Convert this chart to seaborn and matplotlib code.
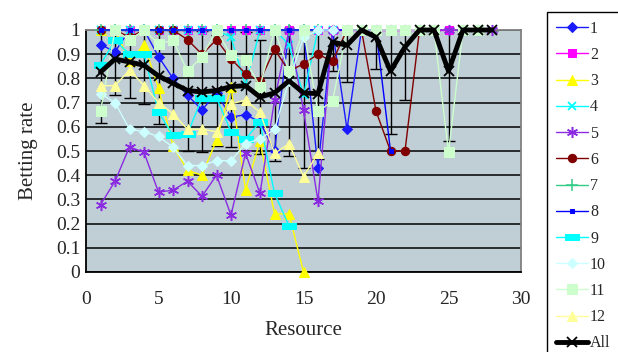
import numpy as np
import matplotlib
matplotlib.use("Agg")
import matplotlib.pyplot as plt
import seaborn as sns

# ---------------- data ----------------
x1 = list(range(1, 20))
s1 = [0.94, 0.91, 1.0, 1.0, 0.89, 0.80, 0.73, 0.67, 0.74, 0.64, 0.65, 0.62, 0.50, 1.0, 1.0, 0.43, 1.0, 0.59, 1.0]
x2 = list(range(1, 26))
s2 = [1.0] * 25
x3 = list(range(1, 16))
s3 = [1.0, 1.0, 0.87, 0.94, 0.76, 0.52, 0.42, 0.40, 0.545, 0.765, 0.34, 0.54, 0.24, 0.24, 0.0]
x4 = list(range(1, 18))
s4 = [1.0, 1.0, 1.0, 1.0, 1.0, 1.0, 1.0, 1.0, 1.0, 0.97, 0.77, 1.0, 1.0, 0.94, 0.73, 1.0, 1.0]
x5 = list(range(1, 29))
s5 = [0.278, 0.375, 0.517, 0.494, 0.33, 0.338, 0.375, 0.313, 0.40, 0.235, 0.49, 0.325, 0.71, 1.0,
      0.668, 0.293, 1.0, 1.0, 1.0, 1.0, 1.0, 1.0, 1.0, 1.0, 1.0, 1.0, 1.0, 1.0]
x6 = list(range(1, 24))
s6 = [1.0, 1.0, 0.97, 1.0, 1.0, 1.0, 0.96, 0.90, 0.96, 0.88, 0.82, 0.79, 0.92, 0.83, 0.86, 0.90,
      0.87, 1.0, 1.0, 0.665, 0.50, 0.50, 1.0]
x7 = list(range(1, 17))
s7 = [1.0] * 16
x8 = list(range(1, 22))
s8 = [1.0] * 20 + [0.50]
x9 = list(range(1, 15))
s9 = [0.857, 0.957, 0.90, 0.90, 0.66, 0.565, 0.57, 0.72, 0.72, 0.58, 0.55, 0.62, 0.325, 0.19]
x10 = list(range(1, 18))
s10 = [0.737, 0.70, 0.59, 0.58, 0.56, 0.516, 0.44, 0.44, 0.46, 0.46, 0.53, 0.55, 0.59, 0.79, 0.97, 1.0, 1.0]
x11 = list(range(1, 28))
s11 = [0.664, 1.0, 0.957, 1.0, 0.943, 0.957, 0.83, 0.89, 1.0, 0.895, 0.876, 0.766, 1.0, 0.83, 1.0,
       0.664, 0.705, 1.0, 1.0, 1.0, 1.0, 1.0, 1.0, 1.0, 0.495, 1.0, 1.0]
x12 = list(range(1, 17))
s12 = [0.77, 0.77, 0.835, 0.77, 0.70, 0.654, 0.59, 0.59, 0.58, 0.695, 0.71, 0.66, 0.49, 0.53, 0.394, 0.49]
x_all = list(range(1, 29))
s_all = [0.826, 0.88, 0.868, 0.854, 0.81, 0.78, 0.75, 0.744, 0.75, 0.766, 0.77, 0.723, 0.74, 0.79,
         0.74, 0.737, 0.95, 0.937, 1.0, 0.97, 0.83, 0.93, 1.0, 1.0, 0.83, 1.0, 1.0, 1.0]
err_all = [0.21, 0.15, 0.15, 0.16, 0.20, 0.22, 0.25, 0.25, 0.23, 0.25, 0.22, 0.235, 0.28, 0.31,
           0.31, 0.27, 0.12, 0.15, 0.0, 0.13, 0.26, 0.22, 0.0, 0.0, 0.29, 0.0, 0.0, 0.0]

labels = ["1", "2", "3", "4", "5", "6", "7", "8", "9", "10", "11", "12"]
xticks = [0, 5, 10, 15, 20, 25, 30]
yticks = [0, 0.1, 0.2, 0.3, 0.4, 0.5, 0.6, 0.7, 0.8, 0.9, 1.0]
ytick_labels = ["0", "0.1", "0.2", "0.3", "0.4", "0.5", "0.6", "0.7", "0.8", "0.9", "1"]

# ---------------- styling ----------------
sns.set_style("white")
plt.rcParams["font.family"] = ["Liberation Serif", "DejaVu Serif"]

bar_marker = [(-1, -0.38), (1, -0.38), (1, 0.38), (-1, 0.38), (-1, -0.38)]
styles = [
    dict(color="#1a1aff", marker="D", markersize=5),
    dict(color="#ff00ff", marker="s", markersize=6),
    dict(color="#ffff00", marker="^", markersize=7),
    dict(color="#00ffff", marker="x", markersize=6, markeredgewidth=1.3),
    dict(color="#8a2be2", marker=(6, 2, 0), markersize=8, markeredgewidth=1.1),
    dict(color="#800000", marker="o", markersize=6),
    dict(color="#33cc88", marker="+", markersize=8, markeredgewidth=1.1),
    dict(color="#0000ff", marker="s", markersize=3.5),
    dict(color="#00ffff", marker=bar_marker, markersize=10),
    dict(color="#ccffff", marker="D", markersize=5.5),
    dict(color="#ccffcc", marker="s", markersize=7),
    dict(color="#ffff99", marker="^", markersize=7),
]
xs = [x1, x2, x3, x4, x5, x6, x7, x8, x9, x10, x11, x12]
ys = [s1, s2, s3, s4, s5, s6, s7, s8, s9, s10, s11, s12]

fig = plt.figure(figsize=(6.18, 3.52), dpi=100)
ax = fig.add_axes([86 / 618, 1 - 272 / 352, (521 - 86) / 618, (272 - 30) / 352])
ax.set_facecolor("#c0ced6")

# error bars of the "All" series (clipped by the plot area)
ax.errorbar(x_all, s_all, yerr=err_all, fmt="none", ecolor="black", elinewidth=1.0,
            capsize=4, capthick=1.0, zorder=2)

for lab, xv, yv, st in zip(labels, xs, ys, styles):
    sns.lineplot(x=xv, y=yv, ax=ax, label=lab, linewidth=1.0,
                 markeredgecolor=st["color"], clip_on=False, zorder=3, **st)

sns.lineplot(x=x_all, y=s_all, ax=ax, label="All", color="black", linewidth=3.5,
             marker="x", markersize=7, markeredgewidth=1.3, markeredgecolor="black",
             clip_on=False, zorder=4)

ax.set_xlim(0, 30)
ax.set_ylim(0, 1)
ax.set_xticks(xticks)
ax.set_yticks(yticks)
ax.set_yticklabels(ytick_labels)
ax.yaxis.grid(True, color="black", linewidth=1.1)
ax.xaxis.grid(False)
ax.set_axisbelow(True)
ax.tick_params(axis="x", direction="in", length=4, width=1, labelsize=14, pad=14, color="black")
ax.tick_params(axis="y", length=0, labelsize=14, pad=4)
for side in ["left", "bottom"]:
    ax.spines[side].set_color("black")
    ax.spines[side].set_linewidth(1.3)
for side in ["top", "right"]:
    ax.spines[side].set_color("#808080")
    ax.spines[side].set_linewidth(1.3)

ax.set_xlabel("Resource", fontsize=15, labelpad=9)
ax.set_ylabel("Betting rate", fontsize=15, labelpad=13)

handles, labs = ax.get_legend_handles_labels()
leg = ax.legend(handles, labs, loc="upper left", bbox_to_anchor=(547 / 618, 1 - 12 / 352),
                bbox_transform=fig.transFigure, fontsize=11.5, frameon=True, fancybox=False,
                edgecolor="black", framealpha=1, borderaxespad=0, handlelength=2.0,
                handletextpad=0.15, labelspacing=0.64, borderpad=0.55)
leg.get_frame().set_linewidth(1.0)

fig.savefig("out.png", dpi=100)
